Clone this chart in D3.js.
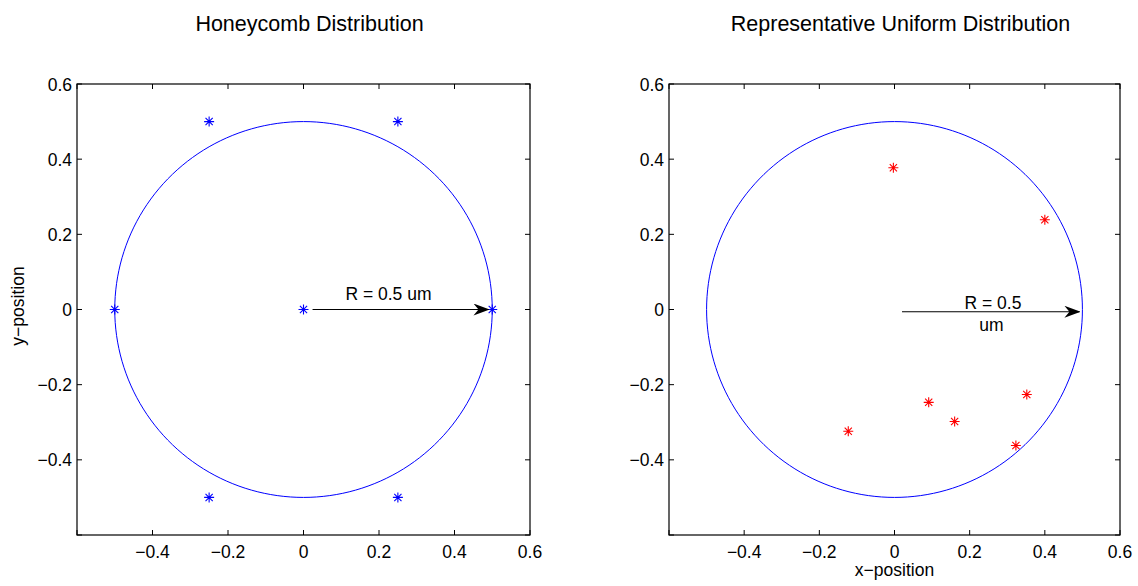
<!DOCTYPE html>
<html><head><meta charset="utf-8">
<script src="https://cdn.jsdelivr.net/npm/d3@7"></script>
<style>body{margin:0;background:#fff}svg{display:block;font-family:"Liberation Sans",Arial,sans-serif}</style>
</head><body><svg id="c" width="1138" height="586"></svg>
<script>
const titles = ["Honeycomb Distribution", "Representative Uniform Distribution"];
const tickValues = [-0.4, -0.2, 0, 0.2, 0.4, 0.6];
const tickMarks = [-0.6, -0.4, -0.2, 0, 0.2, 0.4, 0.6];
const circleRadius = 0.5;
const honeyX = [0, 0.5, -0.5, 0.25, -0.25, 0.25, -0.25];
const honeyY = [0, 0, 0, 0.5, 0.5, -0.5, -0.5];
const uniformX = [-0.003, 0.40, 0.091, 0.16, 0.352, 0.323, -0.123];
const uniformY = [0.377, 0.239, -0.247, -0.298, -0.226, -0.362, -0.324];
const arrowLeft = {x1: 0.024, y1: 0, x2: 0.49, y2: 0};
const arrowRight = {x1: 0.02, y1: -0.006, x2: 0.492, y2: -0.006};

const svg = d3.select("#c");
const defs = svg.append("defs");
defs.append("marker").attr("id","ah").attr("viewBox","0 0 16 12").attr("refX",15).attr("refY",6)
  .attr("markerWidth",16).attr("markerHeight",12).attr("markerUnits","userSpaceOnUse").attr("orient","auto")
  .append("path").attr("d","M0,0 L16,6 L0,12 L5,6 Z").attr("fill","#000");

const panels = [
  {x0:77, x1:530, title:titles[0], px:honeyX, py:honeyY, color:"#0000ff", arrow:arrowLeft, ylabel:true},
  {x0:669, x1:1120, title:titles[1], px:uniformX, py:uniformY, color:"#ff0000", arrow:arrowRight, xlabel:true}
];
const plotTop = 84, plotBottom = 535;
const fs = 17.5, titleFs = 21.5;

panels.forEach((p, idx) => {
  const x = d3.scaleLinear().domain([-0.6, 0.6]).range([p.x0, p.x1]);
  const y = d3.scaleLinear().domain([-0.6, 0.6]).range([plotBottom, plotTop]);
  const g = svg.append("g");
  const th = d3.range(0, 361, 2).map(d => d * Math.PI / 180);
  g.append("path").attr("d", d3.line().x(t => x(circleRadius*Math.cos(t))).y(t => y(circleRadius*Math.sin(t)))(th))
    .attr("fill","none").attr("stroke","#0000ff").attr("stroke-width",1);
  const s = 5;
  p.px.forEach((vx, i) => {
    const cx = x(vx), cy = y(p.py[i]);
    const k = s*0.72;
    const d = `M${cx-s},${cy}L${cx+s},${cy}M${cx},${cy-s}L${cx},${cy+s}M${cx-k},${cy-k}L${cx+k},${cy+k}M${cx-k},${cy+k}L${cx+k},${cy-k}`;
    g.append("path").attr("d", d).attr("stroke", p.color).attr("stroke-width",1.1).attr("fill","none");
  });
  g.append("rect").attr("x",p.x0).attr("y",plotTop).attr("width",p.x1-p.x0).attr("height",plotBottom-plotTop)
    .attr("fill","none").attr("stroke","#000").attr("stroke-width",1.2);
  const tl = 5;
  tickMarks.forEach(v => {
    g.append("line").attr("x1",x(v)).attr("x2",x(v)).attr("y1",plotBottom).attr("y2",plotBottom-tl).attr("stroke","#000");
    g.append("line").attr("x1",x(v)).attr("x2",x(v)).attr("y1",plotTop).attr("y2",plotTop+tl).attr("stroke","#000");
    g.append("line").attr("y1",y(v)).attr("y2",y(v)).attr("x1",p.x0).attr("x2",p.x0+tl).attr("stroke","#000");
    g.append("line").attr("y1",y(v)).attr("y2",y(v)).attr("x1",p.x1).attr("x2",p.x1-tl).attr("stroke","#000");
  });
  const fmt = v => v === 0 ? "0" : (v < 0 ? "\u2212" + Math.abs(v) : String(v));
  tickValues.forEach(v => {
    g.append("text").attr("x",x(v)).attr("y",558).attr("text-anchor","middle").attr("font-size",fs).text(fmt(v));
    g.append("text").attr("x",p.x0-5).attr("y",y(v)+6.5).attr("text-anchor","end").attr("font-size",fs).text(fmt(v));
  });
  g.append("text").attr("x",(p.x0+p.x1)/2+6).attr("y",31).attr("text-anchor","middle").attr("font-size",titleFs).text(p.title);
  if (p.ylabel) g.append("text").attr("transform","translate(24,306) rotate(-90)").attr("text-anchor","middle").attr("font-size",fs).text("y\u2212position");
  if (p.xlabel) g.append("text").attr("x",x(0)).attr("y",576).attr("text-anchor","middle").attr("font-size",fs).text("x\u2212position");
  const a = p.arrow;
  g.append("line").attr("x1",x(a.x1)).attr("y1",y(a.y1)).attr("x2",x(a.x2)).attr("y2",y(a.y2))
    .attr("stroke","#000").attr("stroke-width",1).attr("marker-end","url(#ah)");
  if (idx === 0) {
    g.append("text").attr("x",x(0.225)).attr("y",y(0.025)).attr("text-anchor","middle").attr("font-size",fs).text("R = 0.5 um");
  } else {
    g.append("text").attr("x",x(0.262)).attr("y",y(0.002)).attr("text-anchor","middle").attr("font-size",fs).text("R = 0.5");
    g.append("text").attr("x",x(0.258)).attr("y",y(-0.057)).attr("text-anchor","middle").attr("font-size",fs).text("um");
  }
});
</script></body></html>
